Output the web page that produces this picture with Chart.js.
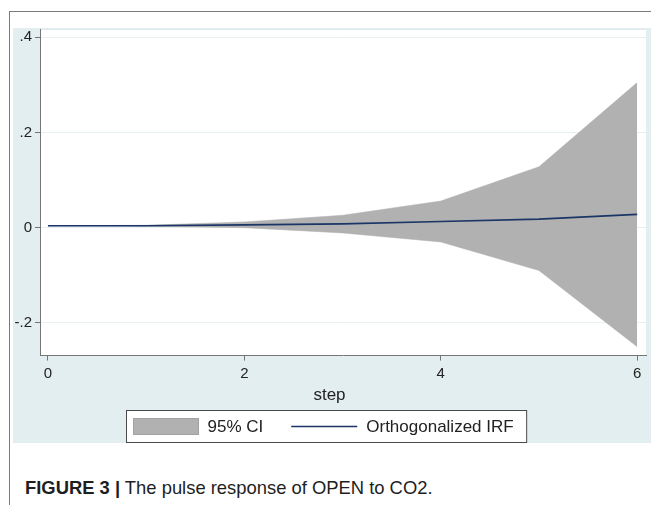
<!DOCTYPE html>
<html>
<head>
<meta charset="utf-8">
<script src="https://cdn.jsdelivr.net/npm/chart.js@4.4.1/dist/chart.umd.min.js"></script>
<style>
    body { margin: 0; background: #fff; }
    #page { position: relative; width: 651px; height: 505px; overflow: hidden; font-family: "Liberation Sans", Arial, sans-serif; }
    #frame { position: absolute; left: 9px; top: 11px; width: 660px; height: 520px; border-top: 1px solid #7a7a7a; border-left: 1px solid #7a7a7a; }
    #panel { position: absolute; left: 13px; top: 28px; width: 638px; height: 415px; background: #e3eef0; }
    #caption { position: absolute; left: 25px; top: 477px; font-size: 18.4px; color: #1e1e1e; white-space: nowrap; }
    #caption b { font-weight: bold; }
</style>
</head>
<body>
<div id="page">
    <div id="frame"></div>
    <div id="panel"><canvas id="irfChart" width="638" height="415"></canvas></div>
    <div id="caption"><b>FIGURE 3 |</b> The pulse response of OPEN to CO2.</div>
</div>
<script>
// 데이터
const steps = [0, 1, 2, 3, 4, 5, 6];
const irfValues = [0.004, 0.004, 0.006, 0.008, 0.013, 0.018, 0.028];
const ciUpper = [0.004, 0.005, 0.012, 0.026, 0.056, 0.128, 0.305];
const ciLower = [0.004, 0.003, 0.0, -0.011, -0.030, -0.090, -0.250];
const xTicks = [0, 2, 4, 6];
const yTicks = [-0.2, 0, 0.2, 0.4];
const legendLabels = ['95% CI', 'Orthogonalized IRF'];

const CI_COLOR = '#b1b1b1';
const IRF_COLOR = '#1b3566';
const AXIS_COLOR = '#767676';
const TEXT_COLOR = '#222';
const FONT = '"Liberation Sans", Arial, sans-serif';

const toPoints = values => steps.map((s, i) => ({ x: s, y: values[i] }));

// 흰색 플롯 영역
const plotBg = {
    id: 'plotBg',
    beforeDraw(chart) {
        const { ctx, chartArea: a } = chart;
        ctx.save();
        ctx.fillStyle = '#fff';
        ctx.fillRect(a.left, a.top, a.right - a.left, a.bottom - a.top);
        ctx.strokeStyle = '#dfeaee';
        ctx.lineWidth = 1;
        ctx.beginPath();
        ctx.moveTo(a.left, a.top + 0.5);
        ctx.lineTo(a.right, a.top + 0.5);
        ctx.stroke();
        ctx.restore();
    }
};

// 테두리가 있는 범례
const boxLegend = {
    id: 'boxLegend',
    afterDraw(chart) {
        const { ctx } = chart;
        ctx.save();
        ctx.font = '17px ' + FONT;
        const w1 = ctx.measureText(legendLabels[0]).width;
        const w2 = ctx.measureText(legendLabels[1]).width;
        const swatchW = 65, lineW = 66;
        const total = 7 + swatchW + 9 + w1 + 28 + lineW + 9 + w2 + 13;
        const left = Math.round(chart.width / 2 - total / 2) - 5.5;
        const top = 382.5, height = 32;
        const cy = top + height / 2;

        ctx.fillStyle = '#fff';
        ctx.fillRect(left, top, total, height);
        ctx.strokeStyle = '#4a4a4a';
        ctx.lineWidth = 1;
        ctx.strokeRect(left, top, total, height);

        let x = left + 7;
        ctx.fillStyle = chart.data.datasets[0].backgroundColor;
        ctx.fillRect(x, cy - 8, swatchW, 16);
        ctx.strokeStyle = '#a2a2a2';
        ctx.strokeRect(x, cy - 8, swatchW, 16);
        x += swatchW + 9;

        ctx.fillStyle = TEXT_COLOR;
        ctx.textBaseline = 'middle';
        ctx.fillText(legendLabels[0], x, cy + 1);
        x += w1 + 28;

        ctx.strokeStyle = chart.data.datasets[2].borderColor;
        ctx.lineWidth = 1.5;
        ctx.beginPath();
        ctx.moveTo(x, cy);
        ctx.lineTo(x + lineW, cy);
        ctx.stroke();
        x += lineW + 9;

        ctx.fillText(legendLabels[1], x, cy + 1);
        ctx.restore();
    }
};

const ctx = document.getElementById('irfChart').getContext('2d');
new Chart(ctx, {
    type: 'line',
    data: {
        datasets: [
            {
                label: '95% CI',
                data: toPoints(ciUpper),
                borderColor: CI_COLOR,
                borderWidth: 0.5,
                backgroundColor: CI_COLOR,
                fill: '+1',
                pointRadius: 0,
                tension: 0,
                order: 1
            },
            {
                label: 'lower',
                data: toPoints(ciLower),
                borderColor: CI_COLOR,
                borderWidth: 0.5,
                backgroundColor: CI_COLOR,
                fill: false,
                pointRadius: 0,
                tension: 0,
                order: 2
            },
            {
                label: 'Orthogonalized IRF',
                data: toPoints(irfValues),
                borderColor: IRF_COLOR,
                borderWidth: 1.6,
                fill: false,
                pointRadius: 0,
                tension: 0,
                order: 0
            }
        ]
    },
    options: {
        responsive: false,
        animation: false,
        layout: { padding: { left: 0, right: 5, top: 1, bottom: 37 } },
        plugins: {
            legend: { display: false },
            tooltip: { enabled: false },
            title: {
                display: true,
                position: 'bottom',
                text: 'step',
                color: TEXT_COLOR,
                font: { family: FONT, size: 17, weight: 'normal' },
                padding: { top: 3, bottom: 0 }
            }
        },
        scales: {
            x: {
                type: 'linear',
                min: -0.081,
                max: 6.09,
                afterBuildTicks: scale => { scale.ticks = xTicks.map(v => ({ value: v })); },
                afterFit: scale => { scale.height = 27; scale.paddingLeft = 0; scale.paddingRight = 0; },
                grid: { drawOnChartArea: false, drawTicks: true, tickLength: 5, tickColor: AXIS_COLOR },
                border: { color: AXIS_COLOR, width: 1 },
                ticks: {
                    color: TEXT_COLOR,
                    padding: 4,
                    maxRotation: 0,
                    font: { family: FONT, size: 15 },
                    callback: v => String(v)
                }
            },
            y: {
                min: -0.2688,
                max: 0.4175,
                afterBuildTicks: scale => { scale.ticks = yTicks.map(v => ({ value: v })); },
                afterFit: scale => { scale.width = 27; scale.paddingTop = 0; scale.paddingBottom = 0; },
                grid: { color: '#e8f0f2', drawTicks: true, tickLength: 5, tickColor: AXIS_COLOR },
                border: { color: AXIS_COLOR, width: 1 },
                ticks: {
                    color: TEXT_COLOR,
                    padding: 3,
                    font: { family: FONT, size: 15 },
                    callback: v => {
                        if (Math.abs(v) < 1e-9) return '0';
                        const s = Math.abs(v).toFixed(1).replace(/^0/, '');
                        return (v < 0 ? '-' : '') + s;
                    }
                }
            }
        }
    },
    plugins: [plotBg, boxLegend]
});
</script>
</body>
</html>
